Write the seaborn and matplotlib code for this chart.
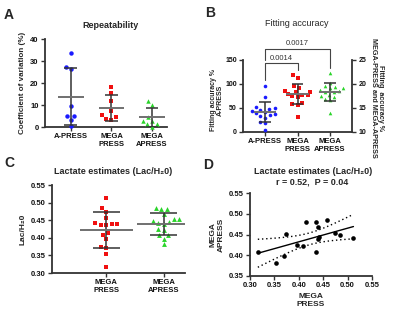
import numpy as np
import pandas as pd
import matplotlib
matplotlib.use("Agg")
import matplotlib.pyplot as plt
import seaborn as sns

# ---------------- data ----------------
groups_a = ["A-PRESS", "MEGA\nPRESS", "MEGA\nAPRESS"]
cv_apress = [33.8, 27.3, 26.3, 9.5, 5.2, 4.9, 3.3, 0.3]
cv_megapress = [18.3, 15.5, 11.7, 7.1, 5.3, 4.6, 3.8, 3.3]
cv_megaapress = [11.7, 9.9, 4.4, 2.9, 2.9, 1.4, 1.4, 0.2]

groups_b = ["A-PRESS", "MEGA\nPRESS", "MEGA\nAPRESS"]
fit_apress = [96, 72, 52, 50, 48, 46, 44, 42, 40, 38, 35, 33, 30, 20, 18, 5]
fit_megapress = [21.8, 21.2, 19.5, 19.2, 18.6, 18.5, 18.3, 18.3, 18.0, 17.8,
                 17.7, 17.5, 17.3, 16.0, 15.8, 15.6, 13.1]
fit_megaapress = [22.3, 20.3, 19.6, 19.4, 19.2, 19.1, 18.8, 18.6, 18.4, 18.3,
                  17.8, 17.5, 17.3, 16.8, 16.6, 14.0]
p_values = ["0.0014", "0.0017"]

groups_c = ["MEGA\nPRESS", "MEGA\nAPRESS"]
lac_megapress = [0.316, 0.354, 0.370, 0.374, 0.396, 0.408, 0.415, 0.435,
                 0.440, 0.442, 0.440, 0.436, 0.457, 0.474, 0.484, 0.512]
lac_megaapress = [0.407, 0.382, 0.398, 0.452, 0.425, 0.423, 0.481, 0.481,
                  0.467, 0.444, 0.439, 0.409, 0.484, 0.453, 0.448, 0.441]
corr_label = "r = 0.52,  P = 0.04"

BLUE = "#1a1aff"
RED = "#f01010"
GREEN = "#2ad42a"
AX = "#333333"
MEANC = "#707070"
ERRC = "#333333"

sns.set_style("ticks")
plt.rcParams["font.family"] = ["Liberation Sans", "DejaVu Sans"]
plt.rcParams["font.weight"] = "bold"
plt.rcParams["axes.labelweight"] = "bold"

W, H = 400, 318
fig = plt.figure(figsize=(4.0, 3.18), dpi=100)
swarm_cols = []  # (collection, final marker size)


def px_ax(l, t, r, b):
    return fig.add_axes([l / W, 1 - b / H, (r - l) / W, (b - t) / H])


def ftext(x, y, s, **kw):
    fig.text(x / W, 1 - y / H, s, ha=kw.pop("ha", "center"), va=kw.pop("va", "center"), **kw)


def style(ax):
    for s in ["top", "right"]:
        ax.spines[s].set_visible(False)
    for s in ["left", "bottom"]:
        ax.spines[s].set_linewidth(1.3)
        ax.spines[s].set_color(AX)
    ax.tick_params(width=1.0, length=3, color=AX, labelsize=5.5, pad=1.5,
                   labelcolor="#111111")
    ax.grid(False)


def swarm(ax, cat, vals, order, color, marker, layout_size, size):
    n0 = len(ax.collections)
    sns.swarmplot(x=[cat] * len(vals), y=vals, order=order, color=color, marker=marker,
                  size=layout_size, linewidth=0, ax=ax, zorder=3, clip_on=False)
    for c in ax.collections[n0:]:
        swarm_cols.append((c, size))


def mean_sd(ax, pos, vals, mhw, chw, mcol=MEANC, ecol=ERRC):
    m = np.mean(vals)
    s = np.std(vals, ddof=1)
    ax.vlines(pos, m - s, m + s, color=ecol, lw=1.1, zorder=4)
    ax.hlines([m - s, m + s], pos - chw, pos + chw, color=ecol, lw=1.1, zorder=4)
    ax.hlines(m, pos - mhw, pos + mhw, color=mcol, lw=1.4, zorder=4)


# ---------------- Panel A ----------------
axA = px_ax(45, 39, 167, 127)
for g, vals, col, mk in zip(groups_a, [cv_apress, cv_megapress, cv_megaapress],
                            [BLUE, RED, GREEN], ["o", "s", "^"]):
    swarm(axA, g, vals, groups_a, col, mk, 3.8, 3.2)
for i, vals in enumerate([cv_apress, cv_megapress, cv_megaapress]):
    mean_sd(axA, i, vals, 0.32, 0.16)
axA.set_ylim(0, 40)
axA.set_yticks([0, 10, 20, 30, 40])
axA.set_xlim(-0.64, 2.37)
axA.set_xlabel("")
axA.set_ylabel("Coefficient of variation (%)", fontsize=5.8, labelpad=3)
style(axA)
ftext(110, 25, "Repeatability", fontsize=6.5, fontweight="bold")
ftext(9, 15, "A", fontsize=10, fontweight="bold")

# ---------------- Panel B ----------------
axB = px_ax(243, 60, 352, 132)
axB2 = axB.twinx()
swarm(axB, groups_b[0], fit_apress, groups_b, BLUE, "o", 3.6, 2.6)
swarm(axB2, groups_b[1], fit_megapress, groups_b, RED, "s", 3.6, 2.6)
swarm(axB2, groups_b[2], fit_megaapress, groups_b, GREEN, "^", 3.6, 2.6)
mean_sd(axB, 0, fit_apress, 0.35, 0.18)
mean_sd(axB2, 1, fit_megapress, 0.35, 0.18)
mean_sd(axB2, 2, fit_megaapress, 0.35, 0.18)
axB.set_ylim(0, 150)
axB.set_yticks([0, 50, 100, 150])
axB2.set_ylim(10, 25)
axB2.set_yticks([10, 15, 20, 25])
axB.set_xticks([0, 1, 2])
axB.set_xticklabels(groups_b)
axB.set_xlim(-0.68, 2.68)
axB.set_xlabel("")
axB2.set_xlabel("")
axB.set_ylabel("")
axB2.set_ylabel("")
style(axB)
axB.tick_params(axis="y", labelsize=5)
axB2.spines["top"].set_visible(False)
axB2.spines["left"].set_visible(False)
axB2.spines["bottom"].set_visible(False)
axB2.spines["right"].set_linewidth(1.3)
axB2.spines["right"].set_color(AX)
axB2.tick_params(width=1.0, length=3, color=AX, labelsize=5, pad=1.5,
                 labelcolor="#111111")
axB2.grid(False)
ftext(217, 100, "Fitting accuracy %\nA-PRESS", fontsize=5, fontweight="bold",
      rotation=90, linespacing=1.05)
ftext(377, 98, "Fitting  accuracy %\nMEGA-PRESS and MEGA-APRESS", fontsize=5.2,
      fontweight="bold", rotation=270, linespacing=1.05)
# significance brackets (left-axis units)
bk = dict(color="#444444", lw=0.8, clip_on=False, zorder=5)
axB.plot([0, 0, 1, 1], [108, 143.75, 143.75, 129], **bk)
axB.plot([0, 0, 2, 2], [150, 173, 173, 133], **bk)
axB.text(0.5, 154, p_values[0], ha="center", va="center", fontsize=5.5,
         fontweight="normal", color="#333333")
axB.text(1.0, 185, p_values[1], ha="center", va="center", fontsize=5.5,
         fontweight="normal", color="#333333")
ftext(297, 24, "Fitting accuracy", fontsize=6.5, fontweight="normal")
ftext(210, 13, "B", fontsize=10, fontweight="bold")

# ---------------- Panel C ----------------
axC = px_ax(52, 185, 185, 273)
swarm(axC, groups_c[0], lac_megapress, groups_c, RED, "s", 3.9, 3.5)
swarm(axC, groups_c[1], lac_megaapress, groups_c, GREEN, "^", 3.9, 3.5)
mean_sd(axC, 0, lac_megapress, 0.46, 0.24)
mean_sd(axC, 1, lac_megaapress, 0.46, 0.24)
axC.set_ylim(0.30, 0.55)
axC.set_yticks([0.30, 0.35, 0.40, 0.45, 0.50, 0.55])
axC.set_yticklabels([f"{v:.2f}" for v in [0.30, 0.35, 0.40, 0.45, 0.50, 0.55]])
axC.set_xlim(-0.95, 1.375)
axC.set_xlabel("")
axC.set_ylabel("Lac/H\u20820", fontsize=6, labelpad=3)
style(axC)
ftext(113, 171, "Lactate estimates (Lac/H\u20820)", fontsize=6.5, fontweight="bold")
ftext(9, 163, "C", fontsize=10, fontweight="bold")

# ---------------- Panel D ----------------
axD = px_ax(250, 193, 372, 276)
dfD = pd.DataFrame({"x": lac_megapress, "y": lac_megaapress})
sns.scatterplot(data=dfD, x="x", y="y", color="black", s=11, linewidth=0, ax=axD,
                zorder=3, clip_on=False)
xv = np.array(lac_megapress)
yv = np.array(lac_megaapress)
n = len(xv)
b1, b0 = np.polyfit(xv, yv, 1)
xs = np.linspace(xv.min(), xv.max(), 100)
yhat = b0 + b1 * xs
resid = yv - (b0 + b1 * xv)
se = np.sqrt(np.sum(resid ** 2) / (n - 2))
sxx = np.sum((xv - xv.mean()) ** 2)
tcrit = 2.145
band = tcrit * se * np.sqrt(1 / n + (xs - xv.mean()) ** 2 / sxx)
axD.plot(xs, yhat, color="black", lw=1.0, zorder=2)
axD.plot(xs, yhat + band, color="black", lw=1.0, ls=(0, (1, 2)), zorder=2)
axD.plot(xs, yhat - band, color="black", lw=1.0, ls=(0, (1, 2)), zorder=2)
axD.set_xlim(0.30, 0.55)
axD.set_ylim(0.35, 0.55)
axD.set_xticks([0.30, 0.35, 0.40, 0.45, 0.50, 0.55])
axD.set_xticklabels([f"{v:.2f}" for v in [0.30, 0.35, 0.40, 0.45, 0.50, 0.55]])
axD.set_yticks([0.35, 0.40, 0.45, 0.50, 0.55])
axD.set_yticklabels([f"{v:.2f}" for v in [0.35, 0.40, 0.45, 0.50, 0.55]])
axD.set_xlabel("MEGA\nPRESS", fontsize=6, labelpad=3)
axD.set_ylabel("MEGA\nAPRESS", fontsize=6, labelpad=3)
style(axD)
ftext(313, 171, "Lactate estimates (Lac/H\u20820)", fontsize=6.5, fontweight="bold")
ftext(312, 182, corr_label, fontsize=6.5, fontweight="bold")
ftext(208, 165, "D", fontsize=10, fontweight="bold")

# lay out the swarms with the wider spacing, then freeze them and shrink markers
fig.canvas.draw()
for c, sz in swarm_cols:
    if "draw" in c.__dict__:
        del c.draw
    c.set_sizes([sz ** 2])

fig.savefig("out.png", dpi=100, facecolor="white")
